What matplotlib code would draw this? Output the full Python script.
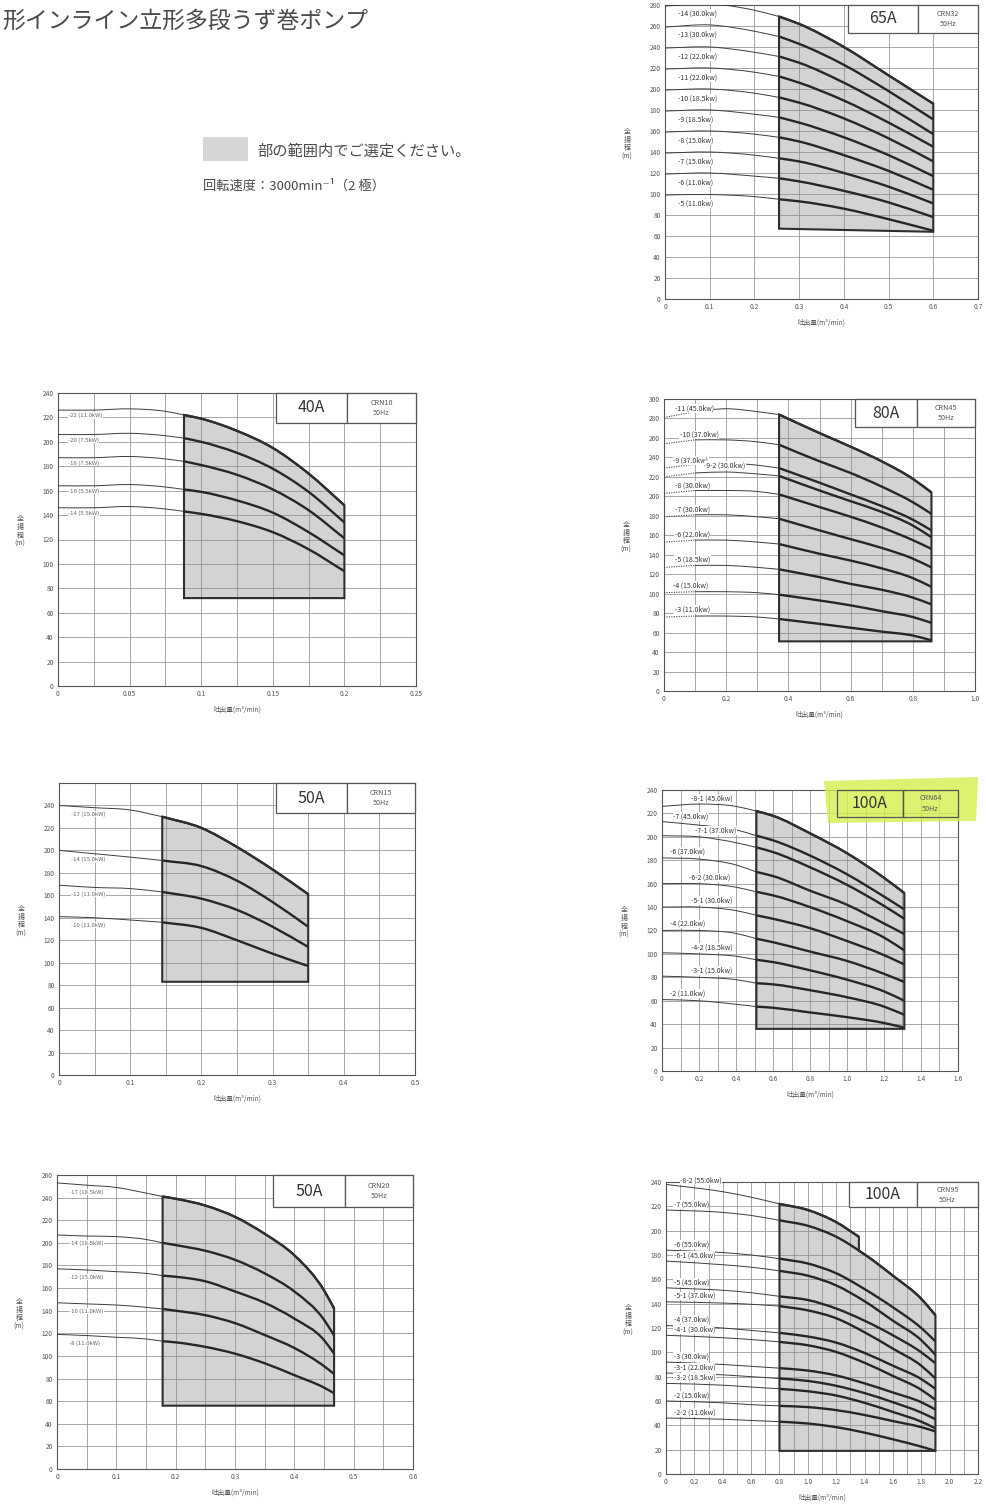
import numpy as np
import matplotlib
matplotlib.use("Agg")
import matplotlib.pyplot as plt
from matplotlib.patches import Rectangle, Polygon, PathPatch
from matplotlib.path import Path

plt.rcParams['font.family'] = ['Noto Sans CJK JP', 'DejaVu Sans']

# ---------------- data ----------------
# CRN32 (65A)
crn32_flow = [0, 0.1, 0.2, 0.255, 0.3, 0.4, 0.5, 0.6]
crn32_names = ["-14 (30.0kw)", "-13 (30.0kw)", "-12 (22.0kw)", "-11 (22.0kw)", "-10 (18.5kw)",
               "-9 (18.5kw)", "-8 (15.0kw)", "-7 (15.0kw)", "-6 (11.0kw)", "-5 (11.0kw)"]
crn32_head = [
    [279, 281, 275, 269, 262, 240, 213, 186],
    [259, 261, 255, 250, 243, 223, 198, 171],
    [239, 240, 235, 231, 225, 206, 183, 157],
    [219, 220, 216, 212, 206, 189, 168, 145],
    [199, 200, 196, 192, 187, 172, 153, 131],
    [179, 180, 176, 173, 168, 154, 137, 117],
    [159, 160, 157, 154, 150, 137, 122, 104],
    [139, 140, 137, 134, 131, 120, 107, 91],
    [119, 120, 117, 115, 112, 103, 92, 78],
    [99, 99.5, 97.5, 95, 93, 86, 76, 65],
]
crn32_range = (0.255, 0.6)
crn32_floor = (67, 64)
crn32_xticks = [0, 0.1, 0.2, 0.3, 0.4, 0.5, 0.6, 0.7]

# CRN10 (40A)
crn10_flow = [0, 0.025, 0.05, 0.075, 0.088, 0.1, 0.125, 0.15, 0.175, 0.2]
crn10_names = ["-22 (11.0kW)", "-20 (7.5kW)", "-18 (7.5kW)", "-16 (5.5kW)", "-14 (5.5kW)"]
crn10_head = [
    [226, 226, 227, 225, 222, 219, 209, 195, 174, 148],
    [206, 206, 207, 205, 203, 200, 191, 178, 159, 134],
    [187, 187, 188, 186, 184, 181, 173, 161, 144, 121],
    [164, 164, 165, 163, 161, 159, 152, 142, 126, 107],
    [146, 146, 147, 145, 143, 141, 135, 126, 112, 94],
]
crn10_range = (0.088, 0.2)
crn10_floor = (72, 72)
crn10_xticks = [0, 0.05, 0.1, 0.15, 0.2, 0.25]

# CRN45 (80A)
crn45_flow = [0, 0.1, 0.2, 0.3, 0.37, 0.5, 0.6, 0.7, 0.8, 0.86]
crn45_names = ["-11 (45.0kw)", "-10 (37.0kw)", "-9 (37.0kw)", "-9-2 (30.0kw)", "-8 (30.0kw)",
               "-7 (30.0kw)", "-6 (22.0kw)", "-5 (18.5kw)", "-4 (15.0kw)", "-3 (11.0kw)"]
crn45_head = [
    [281, 287, 290, 287, 284, 265, 251, 236, 218, 204],
    [254, 258, 258, 256, 253, 236, 224, 210, 194, 182],
    [229, 233, 234, 232, 229, 214, 202, 190, 176, 165],
    [220, 224, 225, 223, 221, 206, 195, 184, 170, 158],
    [203, 206, 206, 205, 202, 189, 179, 168, 155, 146],
    [179, 181, 181, 179, 177, 165, 156, 147, 136, 127],
    [153, 155, 155, 153, 151, 141, 134, 126, 116, 107],
    [127, 129, 129, 127, 125, 117, 110, 104, 96, 89],
    [101, 102, 102, 101, 99, 93, 88, 82, 76, 70],
    [76, 77, 77, 76, 74, 69, 65, 61, 57, 52],
]
crn45_range = (0.37, 0.86)
crn45_floor = (51, 51)
crn45_xticks = [0, 0.2, 0.4, 0.6, 0.8, 1.0]

# CRN15 (50A)
crn15_flow = [0, 0.05, 0.1, 0.145, 0.2, 0.25, 0.3, 0.35]
crn15_names = ["-17 (15.0kW)", "-14 (15.0kW)", "-12 (11.0kW)", "-10 (11.0kW)"]
crn15_head = [
    [240, 238, 236, 230, 220, 203, 183, 161],
    [200, 197, 194, 191, 186, 173, 154, 132],
    [169, 167, 166, 163, 157, 147, 132, 114],
    [141, 140, 138, 136, 131, 120, 108, 97],
]
crn15_range = (0.145, 0.35)
crn15_floor = (83, 83)
crn15_xticks = [0, 0.1, 0.2, 0.3, 0.4, 0.5]

# CRN64 (100A)
crn64_flow = [0, 0.2, 0.4, 0.51, 0.6, 0.8, 1.0, 1.2, 1.31]
crn64_names = ["-8-1 (45.0kw)", "-7 (45.0kw)", "-7-1 (37.0kw)", "-6 (37.0kw)", "-6-2 (30.0kw)",
               "-5-1 (30.0kw)", "-4 (22.0kw)", "-4-2 (18.5kw)", "-3-1 (15.0kw)", "-2 (11.0kw)"]
crn64_head = [
    [226, 228, 226, 222, 218, 203, 186, 165, 152],
    [213, 210, 206, 201, 197, 184, 168, 149, 138],
    [201, 200, 195, 191, 187, 174, 159, 141, 130],
    [182, 181, 176, 170, 166.5, 154, 142, 126, 117],
    [160, 160, 157, 153, 150, 140, 128, 114, 103],
    [140, 140, 137, 133, 130, 122, 111, 99, 91],
    [120, 120, 117.5, 113, 110, 102, 94, 83, 76],
    [101, 100, 98, 95, 93, 86, 78, 68, 60],
    [81, 80, 78, 75, 74, 69, 63, 55, 48],
    [61, 60, 57, 55, 54, 50, 46, 41, 37],
]
crn64_range = (0.51, 1.31)
crn64_floor = (36, 36)
crn64_xticks = [0, 0.2, 0.4, 0.6, 0.8, 1.0, 1.2, 1.4, 1.6]

# CRN20 (50A)
crn20_flow = [0, 0.05, 0.1, 0.15, 0.178, 0.2, 0.25, 0.3, 0.35, 0.4, 0.45, 0.467]
crn20_names = ["-17 (18.5kW)", "-14 (18.5kW)", "-12 (15.0kW)", "-10 (11.0kW)", "-8 (11.0kW)"]
crn20_head = [
    [253, 251, 249, 244, 241, 239, 233, 223, 208, 189, 158, 142],
    [207, 206, 205.5, 203, 200, 198, 193, 185, 173, 157, 132, 118],
    [177, 176, 174.5, 173, 171, 170, 166, 157, 147, 133, 114, 102],
    [147, 146, 145, 143, 141.5, 140, 136, 129, 118.5, 107, 91, 84],
    [119, 118, 116.5, 115, 113, 112, 108, 102, 93.5, 83, 72, 67],
]
crn20_range = (0.178, 0.467)
crn20_floor = (56, 56)
crn20_xticks = [0, 0.1, 0.2, 0.3, 0.4, 0.5, 0.6]

# CRN95 (100A)
crn95_flow = [0, 0.4, 0.6, 0.8, 1.0, 1.2, 1.4, 1.6, 1.8, 1.9]
crn95_top_flow = [0, 0.4, 0.6, 0.8, 1.0, 1.2, 1.36]
crn95_names = ["-8-2 (55.0kw)", "-7 (55.0kw)", "-6 (55.0kw)", "-6-1 (45.0kw)", "-5 (45.0kw)",
               "-5-1 (37.0kw)", "-4 (37.0kw)", "-4-1 (30.0kw)", "-3 (30.0kw)", "-3-1 (22.0kw)",
               "-3-2 (18.5kw)", "-2 (15.0kw)", "-2-2 (11.0kw)"]
crn95_head = [
    [238, 232, 227.5, 222, 217, 207, 195],
    [217, 215, 212.5, 208.5, 204, 195, 180.5, 163, 144, 130.5],
    [184, 182, 180, 177, 173, 165, 152, 137, 120, 109],
    [175, 172, 170, 167, 163, 155, 142, 126, 110, 98],
    [153, 151, 149, 146, 143, 136, 126, 114, 100, 91],
    [141.5, 140.5, 139.5, 138, 134.5, 128, 116.5, 103, 89, 78.5],
    [122, 120, 118, 116, 113, 108, 99.5, 89, 78, 70],
    [114, 112, 110.5, 108.6, 105.8, 100.3, 91.4, 80.6, 69.2, 61],
    [92, 90, 88.5, 87, 85, 81, 74.5, 67, 59, 53],
    [83, 81.5, 80, 78.5, 76.5, 72.5, 66.5, 59, 50.5, 45],
    [74.5, 73, 71.5, 70, 68, 64.5, 58.5, 51, 43, 37.5],
    [60, 58.5, 57, 56, 55, 52.5, 48.5, 43.5, 38.5, 35],
    [46, 45, 44, 43, 41.5, 38.5, 34, 28.5, 22.5, 19],
]
crn95_range = (0.8, 1.9)
crn95_floor = (19, 19)
crn95_xticks = [0, 0.2, 0.4, 0.6, 0.8, 1.0, 1.2, 1.4, 1.6, 1.8, 2.0, 2.2]

# ---------------- figure ----------------
W, H = 986, 1508
fig = plt.figure(figsize=(W / 100, H / 100), dpi=100)
fig.patch.set_facecolor('white')

TXT = '#4a4a4a'


def fx(x):
    return x / W


def fy(y):
    return 1 - y / H


def fmt_tick(v):
    if v == 0:
        return "0"
    if float(v).is_integer():
        return f"{v:.1f}"
    return f"{v:g}"


def smooth_segments(xs, ys):
    """Cubic Hermite pieces (as Bezier) through the points, slopes from neighbours in x."""
    x = np.asarray(xs, float)
    y = np.asarray(ys, float)
    n = len(x)
    if n < 2:
        return [], []
    h = np.diff(x)
    d = np.diff(y) / h
    m = np.empty(n)
    if n == 2:
        m[:] = d[0]
    else:
        m[0] = d[0]
        m[-1] = d[-1]
        for i in range(1, n - 1):
            m[i] = (d[i - 1] * h[i] + d[i] * h[i - 1]) / (h[i - 1] + h[i])
    verts, codes = [], []
    for i in range(n - 1):
        dx = h[i] / 3
        verts += [(x[i] + dx, y[i] + m[i] * dx), (x[i + 1] - dx, y[i + 1] - m[i + 1] * dx),
                  (x[i + 1], y[i + 1])]
        codes += [Path.CURVE4] * 3
    return verts, codes


def draw_curve(ax, xs, ys, **kw):
    if len(xs) < 2:
        return
    v, c = smooth_segments(xs, ys)
    p = Path([(xs[0], ys[0])] + v, [Path.MOVETO] + c)
    ax.add_patch(PathPatch(p, fc='none', capstyle='butt', **kw))


def draw_panel(px, flows, heads, names, qrange, floor, xticks, ymax, ytop,
               size_code, model, box, label_x, label_side, label_off,
               label_size, label_color, minor=True, dotted_to=None,
               highlight=False):
    l, t, r, b = px
    ax = fig.add_axes([fx(l), fy(b), (r - l) / W, (b - t) / H])
    ax.set_xlim(xticks[0], xticks[-1])
    ax.set_ylim(0, ytop)
    ax.set_xticks(xticks)
    ax.set_xticklabels([fmt_tick(v) for v in xticks])
    if minor:
        mids = [(a + c) / 2 for a, c in zip(xticks[:-1], xticks[1:])]
        ax.set_xticks(mids, minor=True)
    yt = list(range(0, ymax + 1, 20))
    ax.set_yticks(yt)
    ax.set_yticklabels([str(v) for v in yt])
    ax.set_axisbelow(True)
    ax.grid(True, which='both', color='#8f8f8f', lw=0.55)
    ax.tick_params(which='both', length=0, labelsize=4.8, labelcolor='#555', pad=3)
    for s in ax.spines.values():
        s.set_color('#555')
        s.set_linewidth(0.8)

    # selection range (shaded): bounded by the highest curve(s), the flow limits and the floor
    q0, q1 = qrange
    f0 = np.asarray(flows[0], float)
    h0 = np.asarray(heads[0], float)
    sel = (f0 >= q0) & (f0 <= q1)
    verts = [(q0, floor[0]), (f0[sel][0], h0[sel][0])]
    codes = [Path.MOVETO, Path.LINETO]
    v, c = smooth_segments(f0[sel], h0[sel])
    verts += v
    codes += c
    if f0[-1] < q1:
        f1 = np.asarray(flows[1], float)
        h1 = np.asarray(heads[1], float)
        s1 = f1 > f0[-1]
        nx = np.concatenate([[f0[-1]], f1[s1]])
        ny = np.concatenate([[np.interp(f0[-1], f1, h1)], h1[s1]])
        verts.append((nx[0], ny[0]))
        codes.append(Path.LINETO)
        v, c = smooth_segments(nx, ny)
        verts += v
        codes += c
    verts += [(q1, floor[1]), (q0, floor[0])]
    codes += [Path.LINETO, Path.CLOSEPOLY]
    region = Path(verts, codes)
    ax.add_patch(PathPatch(region, fc='#d3d3d3', ec='none', zorder=0.2))
    ax.add_patch(PathPatch(region, fc='none', ec='#2e2e2e', lw=1.5, zorder=3.2,
                           joinstyle='miter'))

    # pump curves: thin outside the range, heavy inside it
    for k in range(len(heads)):
        f = np.asarray(flows[k], float)
        hd = np.asarray(heads[k], float)
        if dotted_to is not None:
            d = f <= dotted_to
            draw_curve(ax, f[d], hd[d], ec='#444', lw=0.8, ls=(0, (1, 1.2)), zorder=3)
            o = (f >= dotted_to) & (f <= q0)
        else:
            o = f <= q0
        draw_curve(ax, f[o], hd[o], ec='#3c3c3c', lw=0.7, zorder=3)
        i = f >= q0
        draw_curve(ax, f[i], hd[i], ec='#262626', lw=1.7, zorder=3.1)
        lx = label_x[k] if isinstance(label_x, (list, tuple)) else label_x
        hy = np.interp(lx, f, hd)
        ly = hy - label_off if label_side == 'below' else hy + label_off
        ax.text(lx, ly, names[k], fontsize=label_size, color=label_color,
                ha='left', va='center', zorder=4,
                bbox=dict(fc='white', ec='none', pad=0.3))

    # model box
    bx0, bxd, by0 = box
    face = 'none' if highlight else 'white'
    if highlight:
        hl = Polygon([(fx(824), fy(781)), (fx(978), fy(777)), (fx(976), fy(821)),
                      (fx(828), fy(823))], closed=True, transform=fig.transFigure,
                     fc='#d3f04e', ec='none', alpha=0.8, zorder=4.5, clip_on=False)
        ax.add_patch(hl)
    for x0, x1 in ((bx0, bxd), (bxd, 1.0)):
        ax.add_patch(Rectangle((x0, by0), x1 - x0, 1 - by0, transform=ax.transAxes,
                               fc=face, ec='#555', lw=0.9, zorder=5, clip_on=False))
    ax.text((bx0 + bxd) / 2, (by0 + 1) / 2, size_code, transform=ax.transAxes,
            ha='center', va='center', fontsize=11.5, color='#333', zorder=6)
    ax.text((bxd + 1) / 2, (by0 + 1) / 2, f"{model}\n50Hz", transform=ax.transAxes,
            ha='center', va='center', fontsize=5.2, linespacing=1.35, color='#555',
            zorder=6)

    # axis titles
    fig.text(fx((l + r) / 2), fy(b + 24), "吐出量(m³/min)", fontsize=4.8,
             color='#555', ha='center', va='center')
    fig.text(fx(l - 38), fy((t + b) / 2 - 8), "全\n揚\n程\n(m)", fontsize=5,
             color='#555', ha='center', va='center', linespacing=1.05)
    return ax


draw_panel((665, 5, 978, 299), [crn32_flow] * 10, crn32_head, crn32_names,
           crn32_range, crn32_floor, crn32_xticks, 280, 280, "65A", "CRN32",
           (0.585, 0.808, 0.905), 0.03, 'below', 8, 5.0, '#333', minor=False)

draw_panel((58, 393, 416, 686), [crn10_flow] * 5, crn10_head, crn10_names,
           crn10_range, crn10_floor, crn10_xticks, 240, 240, "40A", "CRN10",
           (0.609, 0.807, 0.898), 0.007, 'below', 4.5, 4.3, '#666')

draw_panel((664, 399, 975, 691), [crn45_flow] * 10, crn45_head, crn45_names,
           crn45_range, crn45_floor, crn45_xticks, 300, 300, "80A", "CRN45",
           (0.614, 0.813, 0.904),
           [0.035, 0.05, 0.03, 0.13, 0.035, 0.035, 0.035, 0.035, 0.03, 0.035],
           'above', 7, 5.0, '#333', dotted_to=0.1)

draw_panel((59, 783, 415, 1075), [crn15_flow] * 4, crn15_head, crn15_names,
           crn15_range, crn15_floor, crn15_xticks, 240, 260, "50A", "CRN15",
           (0.61, 0.809, 0.897), 0.017, 'below', 7, 4.3, '#666')

draw_panel((662, 790, 958, 1071), [crn64_flow] * 10, crn64_head, crn64_names,
           crn64_range, crn64_floor, crn64_xticks, 240, 240, "100A", "CRN64",
           (0.59, 0.814, 0.904),
           [0.156, 0.06, 0.18, 0.045, 0.144, 0.156, 0.045, 0.156, 0.156, 0.045],
           'above', 5.5, 5.0, '#333', highlight=True)

draw_panel((57, 1175, 413, 1469), [crn20_flow] * 5, crn20_head, crn20_names,
           crn20_range, crn20_floor, crn20_xticks, 260, 260, "50A", "CRN20",
           (0.607, 0.81, 0.891), 0.021, 'below', 7, 4.3, '#666')

draw_panel((666, 1182, 978, 1474), [crn95_top_flow] + [crn95_flow] * 12, crn95_head,
           crn95_names, crn95_range, crn95_floor, crn95_xticks, 240, 240, "100A",
           "CRN95", (0.587, 0.804, 0.914),
           [0.1] + [0.054] * 12, 'above', 5, 5.0, '#333')

# header and note
fig.text(fx(2), fy(21), "形インライン立形多段うず巻ポンプ", fontsize=16.5,
         color=TXT, ha='left', va='center')
fig.patches.append(Rectangle((fx(203), fy(161)), fx(45), 24 / H,
                             transform=fig.transFigure, fc='#d6d6d6', ec='none'))
fig.text(fx(257), fy(151), "部の範囲内でご選定ください。", fontsize=11,
         color=TXT, ha='left', va='center')
fig.text(fx(203), fy(186), "回転速度：3000min⁻¹（2 極）", fontsize=9.5,
         color=TXT, ha='left', va='center')

fig.savefig("out.png", dpi=100, facecolor='white')
